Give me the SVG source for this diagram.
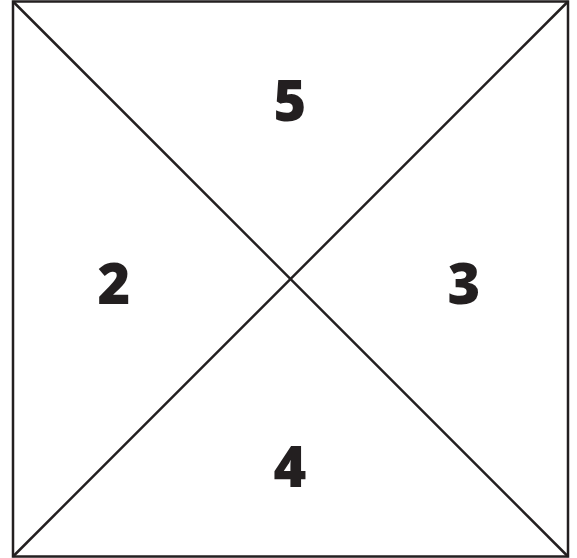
<svg xmlns="http://www.w3.org/2000/svg" width="577" height="558" viewBox="0 0 577 558">
<style>
.ln{stroke:#231f20;stroke-width:2.5;fill:none}
.num{font-family:"Open Sans","Liberation Sans",sans-serif;font-weight:800;font-size:56px;fill:#231f20;text-anchor:middle}
</style>
<rect width="577" height="558" fill="#fff"/>
<g id="connectors">
<rect class="ln" x="13" y="1.5" width="555" height="555"/>
<line class="ln" x1="13" y1="1.5" x2="568" y2="556.5"/>
<line class="ln" x1="568" y1="1.5" x2="13" y2="556.5"/>
</g>
<g id="n5"><text class="num" x="290" y="121">5</text></g>
<g id="n2"><text class="num" x="114" y="304">2</text></g>
<g id="n3"><text class="num" x="464" y="304">3</text></g>
<g id="n4"><text class="num" x="290" y="487">4</text></g>
</svg>
